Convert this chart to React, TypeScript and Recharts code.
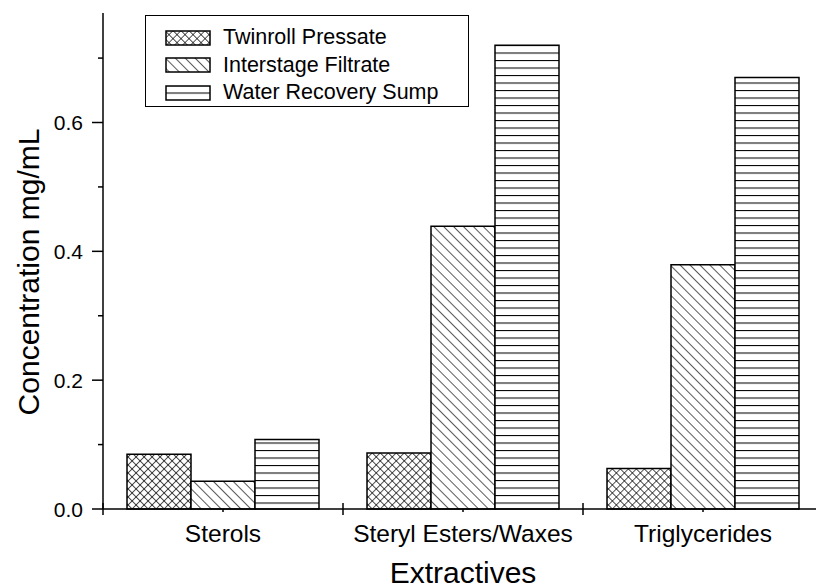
import { BarChart, Bar, XAxis, YAxis, Legend } from 'recharts';

// extractives and their concentrations
const categories = ['Sterols', 'Steryl Esters/Waxes', 'Triglycerides'];
const twinrollPressate = [0.085, 0.087, 0.063];
const interstageFiltrate = [0.043, 0.439, 0.379];
const waterRecoverySump = [0.108, 0.72, 0.67];
const yTicks = [0, 0.1, 0.2, 0.3, 0.4, 0.5, 0.6, 0.7];

const series = [
  { key: 'twinroll', name: 'Twinroll Pressate', pattern: 'cross' },
  { key: 'interstage', name: 'Interstage Filtrate', pattern: 'diag' },
  { key: 'water', name: 'Water Recovery Sump', pattern: 'horiz' },
];

const chartData = categories.map((name, i) => ({
  name,
  twinroll: twinrollPressate[i],
  interstage: interstageFiltrate[i],
  water: waterRecoverySump[i],
}));

const FONT = '"Liberation Sans", Arial, sans-serif';
const CHART_W = 830;
const CHART_H = 588;
const MARGIN = { top: 13, right: 7, bottom: 19, left: 0 };
const YAXIS_W = 103;
const PLOT_W = CHART_W - MARGIN.left - MARGIN.right - YAXIS_W;
const BAND = PLOT_W / categories.length;

function Patterns({ prefix }: { prefix: string }) {
  return (
    <defs>
      <pattern id={`${prefix}-cross`} patternUnits="userSpaceOnUse" width={5.66} height={5.66} patternTransform="rotate(45)">
        <rect width={5.66} height={5.66} fill="#fff" />
        <path d="M0 0 H5.66 M0 0 V5.66" stroke="#000" strokeWidth={1.3} />
      </pattern>
      <pattern id={`${prefix}-diag`} patternUnits="userSpaceOnUse" width={7} height={7} patternTransform="rotate(45)">
        <rect width={7} height={7} fill="#fff" />
        <path d="M0 0 H7" stroke="#000" strokeWidth={1.3} />
      </pattern>
      <pattern id={`${prefix}-horiz`} patternUnits="userSpaceOnUse" width={8} height={7.5}>
        <rect width={8} height={7.5} fill="#fff" />
        <path d="M0 0.5 H8" stroke="#000" strokeWidth={1.1} />
      </pattern>
    </defs>
  );
}

function YTick(props: any) {
  const { x, y, payload, index } = props;
  const major = index % 2 === 0;
  return (
    <g>
      <line x1={x - (major ? 11 : 5)} x2={x} y1={y} y2={y} stroke="#000" strokeWidth={1.5} />
      {major && (
        <text x={x - 20} y={y} dy="0.36em" textAnchor="end" fontSize={21} fontFamily={FONT} fill="#000">
          {payload.value.toFixed(1)}
        </text>
      )}
    </g>
  );
}

function XTick(props: any) {
  const { x, y, payload } = props;
  const left = x - BAND / 2;
  return (
    <g>
      <line x1={left} x2={left} y1={y - 6} y2={y + 6} stroke="#000" strokeWidth={1.5} />
      <line x1={x} x2={x} y1={y} y2={y + 3} stroke="#000" strokeWidth={1.5} />
      <text x={x} y={y + 33} textAnchor="middle" fontSize={24.5} fontFamily={FONT} fill="#000">
        {payload.value}
      </text>
    </g>
  );
}

// legend payload gets sorted by name, so draw rows in series order
function LegendBox() {
  return (
    <div
      style={{
        border: '1.5px solid #000',
        background: '#fff',
        boxSizing: 'border-box',
        width: 324,
        height: 92,
        padding: '8px 0 0 19px',
        fontFamily: FONT,
        fontSize: 21.5,
        color: '#000',
        whiteSpace: 'nowrap',
      }}
    >
      <svg width={0} height={0} style={{ position: 'absolute' }}>
        <Patterns prefix="l" />
      </svg>
      {series.map((s) => (
        <div key={s.key} style={{ display: 'flex', alignItems: 'center', height: 27.5 }}>
          <svg width={46} height={16} style={{ marginRight: 12, flexShrink: 0 }}>
            <rect x={1} y={1} width={44} height={14} fill={`url(#l-${s.pattern})`} stroke="#000" strokeWidth={1.5} />
          </svg>
          <span style={{ lineHeight: '27px' }}>{s.name}</span>
        </div>
      ))}
    </div>
  );
}

export default function App() {
  return (
    <div style={{ position: 'absolute', left: 0, top: 0, width: 816, height: 588, overflow: 'hidden', background: '#fff' }}>
      <BarChart width={CHART_W} height={CHART_H} data={chartData} margin={MARGIN} barCategoryGap="10%" barGap={0}>
        <Patterns prefix="c" />
        <XAxis
          dataKey="name"
          height={60}
          axisLine={{ stroke: '#000', strokeWidth: 1.5 }}
          tickLine={false}
          tickSize={0}
          tickMargin={0}
          interval={0}
          tick={(p: any) => <XTick {...p} />}
          label={{
            content: (p: any) => (
              <text x={p.viewBox.x + p.viewBox.width / 2} y={583} textAnchor="middle" fontSize={30} fontFamily={FONT} fill="#000">
                Extractives
              </text>
            ),
          }}
        />
        <YAxis
          width={YAXIS_W}
          domain={[0, 0.77]}
          ticks={yTicks}
          interval={0}
          axisLine={{ stroke: '#000', strokeWidth: 1.5 }}
          tickLine={false}
          tickSize={0}
          tickMargin={0}
          tick={(p: any) => <YTick {...p} />}
          label={{
            content: () => (
              <text x={28} y={272} transform="rotate(-90 28 272)" textAnchor="middle" dominantBaseline="central" fontSize={30} fontFamily={FONT} fill="#000">
                Concentration mg/mL
              </text>
            ),
          }}
        />
        <Legend
          layout="vertical"
          verticalAlign="middle"
          align="center"
          content={() => <LegendBox />}
          wrapperStyle={{ position: 'absolute', left: 145, top: 15, width: 324, height: 92 }}
        />
        {series.map((s) => (
          <Bar
            key={s.key}
            dataKey={s.key}
            name={s.name}
            fill={`url(#c-${s.pattern})`}
            stroke="#000"
            strokeWidth={1.5}
            isAnimationActive={false}
          />
        ))}
      </BarChart>
    </div>
  );
}
